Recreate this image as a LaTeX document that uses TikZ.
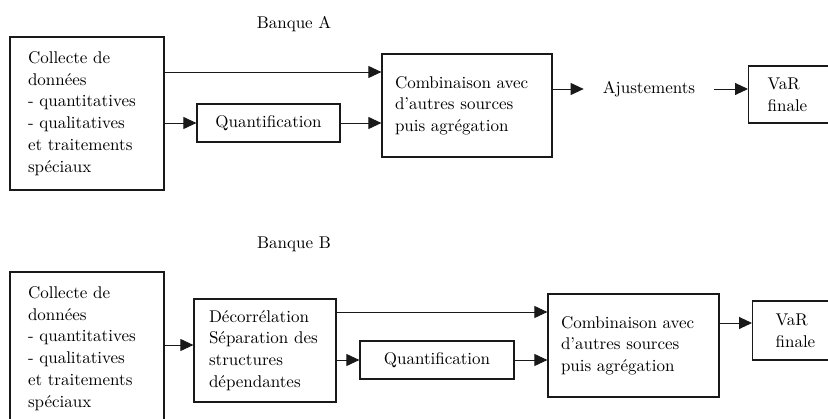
\documentclass[tikz,border=0pt]{standalone}
\usepackage{fontspec}
\setmainfont{lmroman10-regular.otf}
\usetikzlibrary{arrows.meta}
\begin{document}
\begin{tikzpicture}[x=1pt,y=-1pt,>={Triangle[length=13pt,width=12pt]},
every node/.style={font=\fontsize{17}{21.7}\selectfont},
box/.style={draw=black!90,line width=1.2pt,align=left,inner ysep=0pt},
lien/.style={->,line width=0.9pt,draw=black!90}]

\useasboundingbox (0,0) rectangle (828,419);
\clip (0,0) rectangle (828,419);

\node[anchor=base] (titreA) at(294,29){Banque A};

\node[box,text width=118pt,inner xsep=18pt,minimum height=153pt] (collA) at(87,113.5){Collecte de\\données\\- quantitatives\\- qualitatives\\et traitements\\spéciaux};

\node[box,minimum width=143pt,minimum height=38pt] (quantA) at(268.5,123){Quantification};

\node[box,text width=144pt,inner xsep=13pt,minimum height=103pt] (combA) at(467,105.5){Combinaison avec\\d'autres sources\\puis agrégation};

\node[inner xsep=19pt] (ajust) at(649,89){Ajustements};

\node[box,anchor=west,text width=60pt,inner xsep=19pt,minimum height=57pt] (varA) at(748,94.5){VaR\\finale};

\draw[lien] (collA.east |- 0,72) -- (combA.west |- 0,72);
\draw[lien] (collA.east |- quantA) -- (quantA.west);
\draw[lien] (quantA.east) -- (combA.west |- quantA);
\draw[lien] (combA.east |- ajust) -- (ajust.west);
\draw[lien] (ajust.east) -- (varA.west |- ajust);

\node[anchor=base] (titreB) at(294,249){Banque B};

\node[box,text width=118pt,inner xsep=18pt,minimum height=153pt] (collB) at(87,348.5){Collecte de\\données\\- quantitatives\\- qualitatives\\et traitements\\spéciaux};

\node[box,text width=112pt,inner xsep=15pt,minimum height=103pt] (decB) at(265,350.5){Décorrélation\\Séparation des\\structures\\dépendantes};

\node[box,minimum width=154pt,minimum height=38pt] (quantB) at(437,360){Quantification};

\node[box,text width=145pt,inner xsep=13pt,minimum height=103pt] (combB) at(633.5,345.5){Combinaison avec\\d'autres sources\\puis agrégation};

\node[box,anchor=west,text width=60pt,inner xsep=23pt,minimum height=59pt] (varB) at(752,330.5){VaR\\finale};

\draw[lien] (collB.east |- 0,345) -- (decB.west |- 0,345);
\draw[lien] (decB.east |- 0,312) -- (combB.west |- 0,312);
\draw[lien] (decB.east |- quantB) -- (quantB.west);
\draw[lien] (quantB.east) -- (combB.west |- quantB);
\draw[lien] (combB.east |- 0,323) -- (varB.west |- 0,323);

\end{tikzpicture}
\end{document}
